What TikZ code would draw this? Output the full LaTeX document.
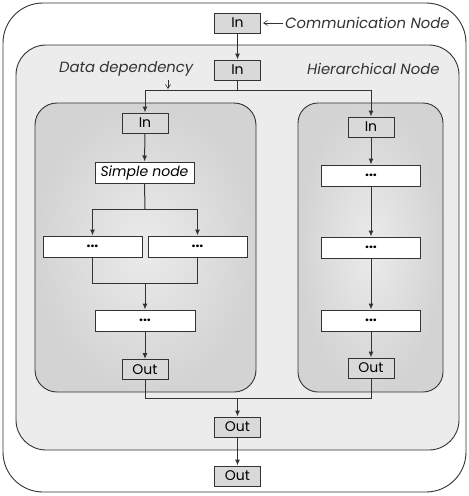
\documentclass[tikz,border=0pt]{standalone}
\usepackage{fontspec}
\setmainfont{Poppins}
\usetikzlibrary{arrows.meta}
\definecolor{linegray}{HTML}{333333}
\definecolor{boxgray}{HTML}{D9D9D9}
\definecolor{hierfill}{HTML}{ECECEC}
\definecolor{subfill}{HTML}{D3D3D3}
\newcommand{\boxfont}{\fontsize{14}{15}\selectfont}
\newcommand{\notefont}{\fontsize{14.8}{16}\selectfont}
\tikzset{
  wire/.style={draw=linegray, line width=1pt},
  flow/.style={wire, -{Latex[length=6pt,width=5pt]}},
  port/.style={draw=linegray, line width=1pt, fill=boxgray, minimum width=46pt, minimum height=20pt, inner sep=0pt, font=\boxfont},
  task/.style={draw=linegray, line width=1pt, fill=white, minimum width=100pt, minimum height=21pt, inner sep=0pt, font=\boxfont\bfseries},
  note/.style={font=\notefont\itshape, text=linegray, inner sep=0pt},
}
\begin{document}
\begin{tikzpicture}[x=1pt,y=-1pt]
\useasboundingbox (0,0) rectangle (469,496);
% containers
\draw[draw=linegray, line width=0.9pt, fill=white, rounded corners=40pt] (3,3) rectangle (466,492);
\draw[draw=linegray, line width=0.9pt, fill=hierfill, rounded corners=30pt] (16,45) rectangle (459,450);
\shade[draw=linegray, line width=0.9pt, inner color=subfill!45!white, outer color=subfill, rounded corners=22pt] (35,103) rectangle (256,392);
\shade[draw=linegray, line width=0.9pt, inner color=subfill!45!white, outer color=subfill, rounded corners=20pt] (298,103) rectangle (443,392);

% communication node and hierarchy entry/exit
\node[port] (cin) at (237.5,23) {In};
\node[port] (hin) at (237.5,70) {In};
\node[port] (hout) at (237.5,427) {Out};
\node[port] (cout) at (237.5,476) {Out};

% left branch
\node[port] (lin) at (145,123) {In};
\node[task, minimum width=99pt, font=\boxfont\itshape] (simple) at (144.5,172.5) {Simple node};
\node[task, minimum width=99pt] (la) at (92.5,246.5) {...};
\node[task, minimum width=99pt] (lb) at (197.5,246.5) {...};
\node[task] (lc) at (145,320.5) {...};
\node[port] (lout) at (145,369.5) {Out};

% right branch
\node[port] (rin) at (371,127) {In};
\node[task, minimum width=99pt] (ra) at (371,175.5) {...};
\node[task, minimum width=99pt] (rb) at (371,247.5) {...};
\node[task, minimum width=99pt] (rc) at (371,320.5) {...};
\node[port] (rout) at (371,368) {Out};

% labels
\node[note, anchor=west] (clabel) at (285,23) {Communication Node};
\node[note, anchor=west] (dlabel) at (59,69) {Data dependency};
\node[note, anchor=west] (hlabel) at (307,69) {Hierarchical Node};
\coordinate (ctip) at ([xshift=2pt]cin.east);
\draw[wire, line width=0.6pt, -{Straight Barb[length=4pt,width=5pt]}] (clabel.west) ++(-2pt,0) -- (ctip);

% flows
\draw[flow] (cin) -- (hin);
\coordinate (split) at (237.5,90);
\draw[wire] (hin.south) -- (split);
\draw[flow] (split) -| (lin.north);
\draw[flow] (split) -| (rin.north);
\coordinate (dtip) at (168,89);
\draw[wire, line width=0.6pt, -{Straight Barb[length=4pt,width=5pt]}] (168,80) -- (dtip);

\draw[flow] (lin) -- (simple);
\coordinate (fork) at (145,209);
\draw[wire] (simple.south) -- (fork);
\draw[flow] (fork) -| (la.north);
\draw[flow] (fork) -| (lb.north);
\coordinate (join) at (145,283);
\draw[wire] (la.south) |- (join);
\draw[wire] (lb.south) |- (join);
\draw[flow] (join) -- (lc.north);
\draw[flow] (lc) -- (lout);

\draw[flow] (rin) -- (ra);
\draw[flow] (ra) -- (rb);
\draw[flow] (rb) -- (rc);
\draw[flow] (rc) -- (rout);

\coordinate (merge) at (237.5,398);
\draw[wire] (lout.south) |- (merge);
\draw[wire] (rout.south) |- (merge);
\draw[flow] (merge) -- (hout.north);
\draw[flow] (hout) -- (cout);
\end{tikzpicture}
\end{document}
